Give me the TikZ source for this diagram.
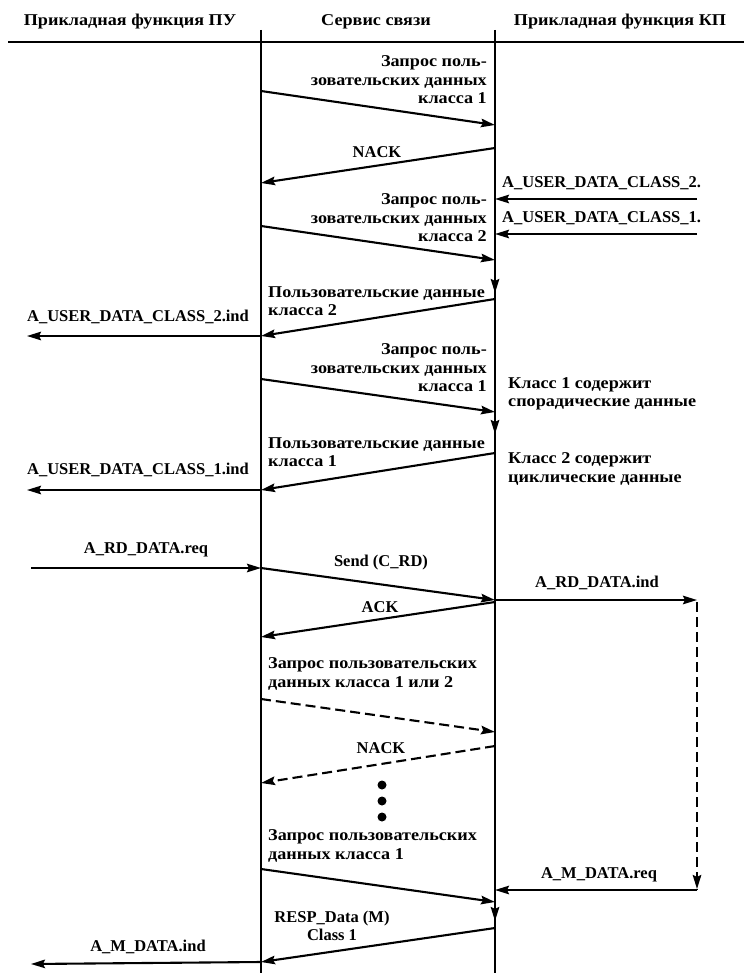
\documentclass[tikz,border=0pt]{standalone}
\usepackage{fontspec}
\setmainfont{Liberation Serif}
\newfontfamily\cyrfont{Liberation Serif}[FakeStretch=1.1]
\usetikzlibrary{arrows.meta}
\begin{document}
\begin{tikzpicture}[x=1pt,y=-1pt,
  every node/.style={font=\fontsize{16.5}{18.5}\selectfont\bfseries, inner sep=0pt},
  cy/.style={font=\fontsize{16.5}{18.5}\selectfont\cyrfont\bfseries},
  msg/.style={line width=2.1pt, -{Stealth[length=14pt,width=8.5pt,inset=2pt]}},
  dmsg/.style={msg, dash pattern=on 10pt off 5pt},
  life/.style={line width=2pt},
  rtext/.style={cy, anchor=east, align=right},
  ltext/.style={cy, anchor=west, align=left},
  dot/.style={circle, fill=black, minimum size=9pt, inner sep=0pt}]
\useasboundingbox (0,0) rectangle (744,973);

% header
\node[cy] (h1) at (130,22) {Прикладная функция ПУ};
\node[cy] (h2) at (376,22) {Сервис связи};
\node[cy] (h3) at (620,22) {Прикладная функция КП};
\coordinate (hl) at (8,42);
\coordinate (hr) at (744,42);
\draw[line width=1.8pt] (hl) -- (hr);

% lifelines
\coordinate (Lt) at (261,30);
\coordinate (Lb) at (261,973);
\coordinate (Rt) at (495,30);
\coordinate (Rb) at (495,973);
\draw[life] (Lt) -- (Lb);
\draw[life] (Rt) -- (Rb);

% 1
\node[rtext] (t1) at (487,80) {Запрос поль-\\зовательских данных\\класса 1};
\coordinate (a1s) at (261,91);
\coordinate (a1e) at (495,125);
\draw[msg] (a1s) -- (a1e);

% 2 NACK
\node (t2) at (377,152) {NACK};
\coordinate (a2s) at (495,148);
\coordinate (a2e) at (261,183);
\draw[msg] (a2s) -- (a2e);

% user data class 2 / 1 requests
\node[anchor=west] (t3) at (502,183) {A\_USER\_DATA\_CLASS\_2.};
\coordinate (a3s) at (697,199);
\coordinate (a3e) at (495,199);
\draw[msg] (a3s) -- (a3e);
\node[anchor=west] (t4) at (502,218) {A\_USER\_DATA\_CLASS\_1.};
\coordinate (a4s) at (697,234);
\coordinate (a4e) at (495,234);
\draw[msg] (a4s) -- (a4e);

% 5
\node[rtext] (t5) at (487,218) {Запрос поль-\\зовательских данных\\класса 2};
\coordinate (a5s) at (261,226);
\coordinate (a5e) at (495,260);
\draw[msg] (a5s) -- (a5e);

\coordinate (d1s) at (495,272);
\coordinate (d1e) at (495,293);
\draw[msg] (d1s) -- (d1e);

% 6
\node[ltext] (t6) at (268,301) {Пользовательские данные\\класса 2};
\coordinate (a6s) at (495,299);
\coordinate (a6e) at (261,336);
\draw[msg] (a6s) -- (a6e);
\node (t7) at (138,317) {A\_USER\_DATA\_CLASS\_2.ind};
\coordinate (a7e) at (27,336);
\draw[msg] (a6e) -- (a7e);

% 8
\node[rtext] (t8) at (487,368) {Запрос поль-\\зовательских данных\\класса 1};
\coordinate (a8s) at (261,379);
\coordinate (a8e) at (495,412);
\draw[msg] (a8s) -- (a8e);
\node[ltext] (t9) at (508,394) {Класс 1 содержит\\спорадические данные};

\coordinate (d2s) at (495,414);
\coordinate (d2e) at (495,434);
\draw[msg] (d2s) -- (d2e);

% 10
\node[ltext] (t10) at (268,452) {Пользовательские данные\\класса 1};
\coordinate (a10s) at (495,453);
\coordinate (a10e) at (261,490);
\draw[msg] (a10s) -- (a10e);
\node[ltext] (t11) at (508,469) {Класс 2 содержит\\циклические данные};
\node (t12) at (138,470) {A\_USER\_DATA\_CLASS\_1.ind};
\coordinate (a12e) at (27,490);
\draw[msg] (a10e) -- (a12e);

% RD
\node (t13) at (146,550) {A\_RD\_DATA.req};
\coordinate (a13s) at (31,568);
\coordinate (a13e) at (261,568);
\draw[msg] (a13s) -- (a13e);
\node (t14) at (381,563) {Send (C\_RD)};
\coordinate (a14e) at (495,600);
\draw[msg] (a13e) -- (a14e);
\node (t15) at (597,583) {A\_RD\_DATA.ind};
\coordinate (a15e) at (697,600);
\draw[msg] (a14e) -- (a15e);
\node (t16) at (380,607) {ACK};
\coordinate (a16s) at (495,602);
\coordinate (a16e) at (261,637);
\draw[msg] (a16s) -- (a16e);

% dashed loop on right
\coordinate (dvs) at (697,602);
\coordinate (dve) at (697,889);
\draw[dmsg] (dvs) -- (dve);

% 17
\node[ltext] (t17) at (268,674) {Запрос пользовательских\\данных класса 1 или 2};
\coordinate (a17s) at (261,699);
\coordinate (a17e) at (495,732);
\draw[dmsg] (a17s) -- (a17e);
\node (t18) at (381,748) {NACK};
\coordinate (a18s) at (495,746);
\coordinate (a18e) at (261,783);
\draw[dmsg] (a18s) -- (a18e);

\node[dot] (p1) at (382,785) {};
\node[dot] (p2) at (382,801) {};
\node[dot] (p3) at (382,817) {};

% 19
\node[ltext] (t19) at (268,846) {Запрос пользовательских\\данных класса 1};
\coordinate (a19s) at (261,869);
\coordinate (a19e) at (495,902);
\draw[msg] (a19s) -- (a19e);
\node (t20) at (599,875) {A\_M\_DATA.req};
\coordinate (a20s) at (697,890);
\coordinate (a20e) at (495,890);
\draw[line width=2.1pt] (dve) -- (a20s);
\draw[msg] (a20s) -- (a20e);

\coordinate (d3s) at (495,904);
\coordinate (d3e) at (495,921);
\draw[msg] (d3s) -- (d3e);

% RESP
\node[align=center] (t21) at (332,926) {RESP\_Data (M)\\Class 1};
\coordinate (a21s) at (495,928);
\coordinate (a21e) at (261,962);
\draw[msg] (a21s) -- (a21e);
\node (t22) at (148,947) {A\_M\_DATA.ind};
\coordinate (a22e) at (31,964);
\draw[msg] (a21e) -- (a22e);
\end{tikzpicture}
\end{document}
